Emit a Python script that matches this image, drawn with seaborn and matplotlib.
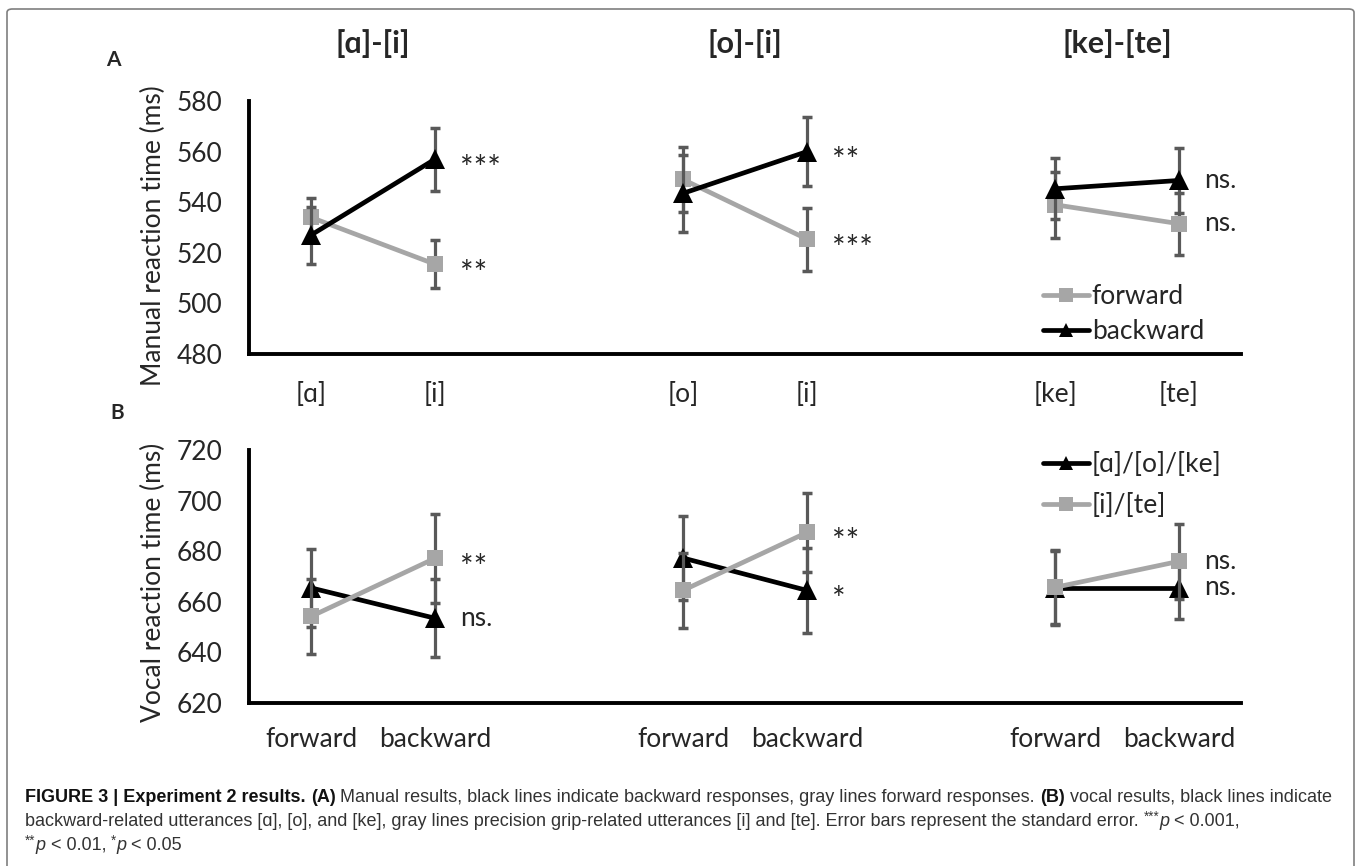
import matplotlib
matplotlib.use("Agg")
import matplotlib.pyplot as plt
from matplotlib.lines import Line2D
from matplotlib.patches import FancyBboxPatch
from matplotlib.transforms import blended_transform_factory
import seaborn as sns
import pandas as pd

# x slots: two conditions per pair, an empty slot between pairs
positions = [0, 1, 3, 4, 6, 7]
pair_titles = ["[ɑ]-[i]", "[o]-[i]", "[ke]-[te]"]
labels_a = ["[ɑ]", "[i]", "[o]", "[i]", "[ke]", "[te]"]
labels_b = ["forward", "backward"] * 3

# panel A: manual reaction time (ms)
forward_rt = [534, 515.5, 549, 525.4, 539, 531.5]
forward_se = [7.6, 9.5, 12.8, 12.5, 13, 12.2]
backward_rt = [527, 557, 543.5, 560, 545.3, 548.6]
backward_se = [11.3, 12.5, 15.2, 13.7, 12, 12.9]
sig_forward_a = ["", "**", "", "***", "", "ns."]
sig_backward_a = ["", "***", "", "**", "", "ns."]

# panel B: vocal reaction time (ms)
back_utt_rt = [665.5, 653.5, 677.3, 664.5, 665.5, 665.5]
back_utt_se = [15.3, 15.4, 16.7, 16.7, 14.5, 12.2]
grip_utt_rt = [654.2, 677.2, 664.5, 687.4, 665.7, 676]
grip_utt_se = [14.8, 17.7, 14.8, 15.8, 14.6, 14.9]
sig_back_utt = ["", "ns.", "", "*", "", "ns."]
sig_grip_utt = ["", "**", "", "**", "", "ns."]

GRAY = "#a6a6a6"
BLACK = "#000000"
ERR = "#595959"

sns.set_style("white")
plt.rcParams["font.family"] = ["Lato", "DejaVu Sans"]

W, H = 1357, 866
fig = plt.figure(figsize=(W / 100, H / 100), dpi=100)


def fx(px):
    return px / W


def fy(py):
    return 1 - py / H


groups = ["p1", "p1", "p2", "p2", "p3", "p3"]


def draw_series(ax, rt, se, sig, color, marker, ms, z):
    df = pd.DataFrame({"pos": positions, "rt": rt, "se": se, "pair": groups})
    ax.errorbar(df["pos"], df["rt"], yerr=df["se"], fmt="none", ecolor=ERR,
                elinewidth=2.3, capsize=3.5, capthick=2.5, zorder=z - 0.5)
    sns.lineplot(data=df, x="pos", y="rt", units="pair", estimator=None,
                 color=color, lw=3.4, marker=marker, markersize=ms,
                 markeredgewidth=0, ax=ax, zorder=z, legend=False)
    for p, v, s in zip(positions, rt, sig):
        if not s:
            continue
        if s.startswith("*"):
            # asterisks sit high in the font, pull them down to the point level
            ax.annotate(s, (p + 0.2, v), xytext=(0, -7.5), textcoords="offset points",
                        fontsize=23, ha="left", va="center")
        else:
            ax.text(p + 0.2, v, s, fontsize=19, ha="left", va="center")


def style_axes(ax, ticks, xlabels, ylim, pad_x):
    ax.set_xlim(-0.5, 7.5)
    ax.set_ylim(*ylim)
    ax.set_yticks(ticks)
    ax.set_xticks(positions)
    ax.set_xticklabels(xlabels)
    ax.tick_params(axis="both", length=0, labelsize=19)
    ax.tick_params(axis="y", pad=19)
    ax.tick_params(axis="x", pad=pad_x)
    ax.set_xlabel("")
    ax.set_ylabel("")
    sns.despine(ax=ax)
    for sp in ("left", "bottom"):
        ax.spines[sp].set_linewidth(2.8)
        ax.spines[sp].set_color("black")
    ax.patch.set_alpha(0)


# ---- panel A
axA = fig.add_axes([fx(249), fy(354), fx(992), 253 / H])
draw_series(axA, forward_rt, forward_se, sig_forward_a, GRAY, "s", 12, 3)
draw_series(axA, backward_rt, backward_se, sig_backward_a, BLACK, "^", 14, 4)
style_axes(axA, range(480, 581, 20), labels_a, (480, 580), 20)
handles_a = [Line2D([], [], color=GRAY, lw=3.4, marker="s", markersize=10, markeredgewidth=0),
             Line2D([], [], color=BLACK, lw=3.4, marker="^", markersize=10, markeredgewidth=0)]
axA.legend(handles_a, ["forward", "backward"], loc="upper left", frameon=False,
           bbox_to_anchor=(fx(1043), fy(284)), bbox_transform=fig.transFigure,
           borderpad=0, borderaxespad=0, handlelength=1.75, handletextpad=0.1,
           labelspacing=0.38, fontsize=19)

# ---- panel B
axB = fig.add_axes([fx(249), fy(703), fx(992), 253 / H])
draw_series(axB, back_utt_rt, back_utt_se, sig_back_utt, BLACK, "^", 14, 3)
draw_series(axB, grip_utt_rt, grip_utt_se, sig_grip_utt, GRAY, "s", 12, 4)
style_axes(axB, range(620, 721, 20), labels_b, (620, 720), 17)
handles_b = [Line2D([], [], color=BLACK, lw=3.4, marker="^", markersize=10, markeredgewidth=0),
             Line2D([], [], color=GRAY, lw=3.4, marker="s", markersize=10, markeredgewidth=0)]
axB.legend(handles_b, ["[ɑ]/[o]/[ke]", "[i]/[te]"], loc="upper left", frameon=False,
           bbox_to_anchor=(fx(1043), fy(452)), bbox_transform=fig.transFigure,
           borderpad=0, borderaxespad=0, handlelength=1.75, handletextpad=0.1,
           labelspacing=0.6, fontsize=19)

# pair titles, panel letters, y labels
title_tr = blended_transform_factory(axA.transData, fig.transFigure)
for i, t in enumerate(pair_titles):
    xc = (positions[2 * i] + positions[2 * i + 1]) / 2
    axA.text(xc, fy(44), t, transform=title_tr, ha="center", va="center",
             fontsize=22, fontweight="bold")
fig.text(fx(113), fy(60), "A", fontsize=15, fontweight="bold", ha="center", va="center")
fig.text(fx(117), fy(413), "B", fontsize=15, fontweight="bold", ha="center", va="center")
fig.text(fx(153), fy(236), "Manual reaction time (ms)", rotation=90, fontsize=19,
         ha="center", va="center")
fig.text(fx(153), fy(582), "Vocal reaction time (ms)", rotation=90, fontsize=19,
         ha="center", va="center")

# frame around the figure
fig.patches.append(FancyBboxPatch((fx(7), fy(880)), fx(1347), (880 - 9) / H,
                                  boxstyle="round,pad=0,rounding_size=0.004",
                                  transform=fig.transFigure, fill=False,
                                  edgecolor="#7f7f7f", lw=1.2))

# caption, written in chunks so bold / italic parts can be mixed
CAP = ["Liberation Sans Narrow", "Liberation Sans", "DejaVu Sans"]
line1 = [("FIGURE 3 | Experiment 2 results. ", "bold", "normal", 1, 0),
         ("(A)", "bold", "normal", 1, 0),
         (" Manual results, black lines indicate backward responses, gray lines forward responses. ",
          "normal", "normal", 1, 0),
         ("(B)", "bold", "normal", 1, 0),
         (" vocal results, black lines indicate", "normal", "normal", 1, 0)]
line2 = [("backward-related utterances [ɑ], [o], and [ke], gray lines precision grip-related "
          "utterances [i] and [te]. Error bars represent the standard error. ", "normal", "normal", 1, 0),
         ("***", "normal", "normal", 0.75, 4),
         ("p", "normal", "italic", 1, 0),
         (" < 0.001,", "normal", "normal", 1, 0)]
line3 = [("**", "normal", "normal", 0.75, 4),
         ("p", "normal", "italic", 1, 0),
         (" < 0.01, ", "normal", "normal", 1, 0),
         ("*", "normal", "normal", 0.75, 4),
         ("p", "normal", "italic", 1, 0),
         (" < 0.05", "normal", "normal", 1, 0)]

renderer = fig.canvas.get_renderer()


def put_line(parts, x0, y, size, draw=True):
    x = x0
    made = []
    for txt, weight, style, sc, dy in parts:
        t = fig.text(fx(x), fy(y - dy), txt, fontsize=size * sc, fontweight=weight,
                     fontstyle=style, family=CAP, va="center", ha="left",
                     color="#111111" if weight == "bold" else "#333333")
        w = t.get_window_extent(renderer).width
        made.append(t)
        x += w
    if not draw:
        for t in made:
            t.remove()
    return x - x0


width = put_line(line1, 25, 797, 12, draw=False)
size = 12 * 1311 / width
put_line(line1, 25, 797, size)
put_line(line2, 25, 821, size)
put_line(line3, 25, 845, size)

fig.savefig("out.png", dpi=100)
